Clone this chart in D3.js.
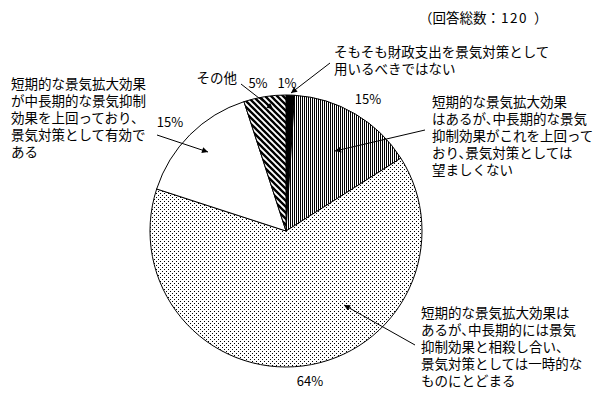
<!DOCTYPE html>
<html>
<head>
<meta charset="utf-8">
<script src="https://cdn.jsdelivr.net/npm/d3@7"></script>
<style>
  body { margin: 0; background: #fff; }
  text { font-family: "Noto Sans CJK JP", sans-serif; font-size: 13.5px; fill: #000; }
  text.pct { font-size: 13px; }
</style>
</head>
<body>
<svg id="chart" width="600" height="400"></svg>
<script>
// answers, clockwise from 12 o'clock
const categories = [
  ["そもそも財政支出を景気対策として", "用いるべきではない"],
  ["短期的な景気拡大効果", "はあるが、中長期的な景気", "抑制効果がこれを上回って", "おり、景気対策としては", "望ましくない"],
  ["短期的な景気拡大効果は", "あるが、中長期的には景気", "抑制効果と相殺し合い、", "景気対策としては一時的な", "ものにとどまる"],
  ["短期的な景気拡大効果", "が中長期的な景気抑制", "効果を上回っており、", "景気対策として有効で", "ある"],
  ["その他"]
];
const shares = [1, 15, 64, 15, 5];
const shareLabels = ["1%", "15%", "64%", "15%", "5%"];
const titleParts = ["（回答総数：", "120", "）"];

const svg = d3.select("#chart");
const cx = 286, cy = 231, r = 136;
const fs = 13.5, lineGap = 17;

// fill patterns
const defs = svg.append("defs");
const vert = defs.append("pattern").attr("id", "vert")
  .attr("patternUnits", "userSpaceOnUse").attr("width", 2).attr("height", 2);
vert.append("rect").attr("width", 2).attr("height", 2).attr("fill", "#fff");
vert.append("rect").attr("width", 1).attr("height", 2).attr("fill", "#000");

const dots = defs.append("pattern").attr("id", "dots")
  .attr("patternUnits", "userSpaceOnUse").attr("width", 4).attr("height", 4);
dots.append("rect").attr("width", 4).attr("height", 4).attr("fill", "#fff");
dots.append("rect").attr("x", 0).attr("y", 0).attr("width", 1).attr("height", 1).attr("fill", "#000");
dots.append("rect").attr("x", 2).attr("y", 2).attr("width", 1).attr("height", 1).attr("fill", "#000");

const diag = defs.append("pattern").attr("id", "diag")
  .attr("patternUnits", "userSpaceOnUse").attr("width", 6).attr("height", 6);
diag.append("rect").attr("width", 6).attr("height", 6).attr("fill", "#fff");
diag.append("path").attr("d", "M-1,-1L7,7M-1,5L1,7M5,-1L7,1")
  .attr("stroke", "#000").attr("stroke-width", 2.3);

defs.append("marker").attr("id", "arrow")
  .attr("viewBox", "0 0 10 10").attr("refX", 10).attr("refY", 5)
  .attr("markerWidth", 7).attr("markerHeight", 6)
  .attr("markerUnits", "userSpaceOnUse")
  .attr("orient", "auto")
  .append("path").attr("d", "M0,0L10,5L0,10Z").attr("fill", "#000");

const fills = ["#000", "url(#vert)", "url(#dots)", "#fff", "url(#diag)"];

const pie = d3.pie().sort(null).value(d => d)(shares);
const arc = d3.arc().innerRadius(0).outerRadius(r);

const g = svg.append("g").attr("transform", `translate(${cx},${cy})`);
g.selectAll("path.slice")
  .data(pie)
  .enter()
  .append("path")
  .attr("class", "slice")
  .attr("d", arc)
  .attr("fill", (d, i) => fills[i])
  .attr("stroke", "#000")
  .attr("stroke-width", 1);

// pulls the char after a comma back half an em (comma set half width)
const commaDx = line => {
  const chars = Array.from(line);
  return chars.map((c, k) => (k > 0 && chars[k - 1] === "、" ? -fs / 2 : 0)).join(" ");
};

// title
const tt = svg.append("text").attr("x", 419).attr("y", 23);
tt.append("tspan").text(titleParts[0]);
tt.append("tspan").attr("dx", 1).attr("letter-spacing", 1.5).text(titleParts[1]);
tt.append("tspan").attr("dx", 6).text(titleParts[2]);

// category texts: [x, first baseline, anchor]
const textPos = [
  [334, 57, "start"],
  [432, 107, "start"],
  [421, 318, "start"],
  [11, 89, "start"],
  [237, 83, "end"]
];
categories.forEach((lines, i) => {
  lines.forEach((line, j) => {
    svg.append("text")
      .attr("class", "cat")
      .attr("x", textPos[i][0])
      .attr("y", textPos[i][1] + j * lineGap)
      .attr("dx", commaDx(line))
      .attr("text-anchor", textPos[i][2])
      .text(line);
  });
});

// percent labels (centres)
const pctPos = [[287, 88], [368, 104], [310, 386], [170, 127], [258, 88]];
svg.selectAll("text.pct")
  .data(shareLabels)
  .enter()
  .append("text")
  .attr("class", "pct")
  .attr("x", (d, i) => pctPos[i][0])
  .attr("y", (d, i) => pctPos[i][1])
  .attr("text-anchor", "middle")
  .text(d => d);

// leader arrows [x1, y1, x2 (tip), y2]
const leaders = [
  [330, 63, 291, 93],
  [425, 130, 335, 151],
  [415, 345, 344, 305],
  [157, 135, 208, 152],
  [241, 84, 273, 109]
];
svg.selectAll("line.leader")
  .data(leaders)
  .enter()
  .append("line")
  .attr("class", "leader")
  .attr("x1", d => d[0]).attr("y1", d => d[1])
  .attr("x2", d => d[2]).attr("y2", d => d[3])
  .attr("stroke", "#000")
  .attr("stroke-width", 1)
  .attr("marker-end", "url(#arrow)");
</script>
</body>
</html>
